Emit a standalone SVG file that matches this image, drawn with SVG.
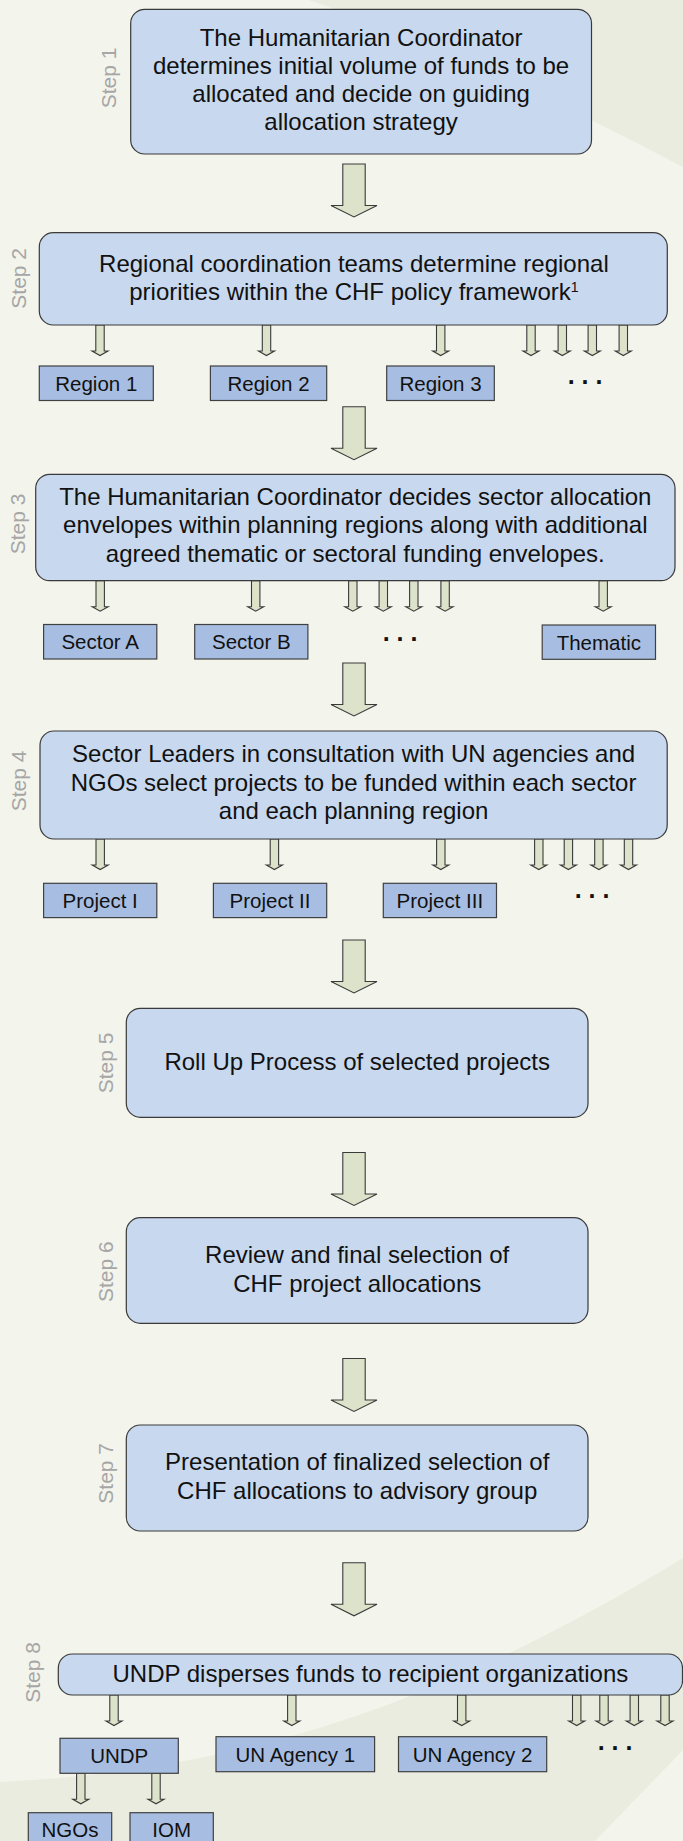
<svg xmlns="http://www.w3.org/2000/svg" width="683" height="1841" viewBox="0 0 683 1841">
<style>
.bg{fill:#f3f4ec}
.bg2{fill:#eaecdf}
.main{fill:#c8d8ee;stroke:#3a3a3a;stroke-width:1.2}
.sub{fill:#a7bee2;stroke:#404040;stroke-width:1.2}
.t{font-family:"Liberation Sans",Arial,sans-serif;font-size:24px;fill:#111;text-anchor:middle}
.s{font-family:"Liberation Sans",Arial,sans-serif;font-size:20.5px;fill:#111;text-anchor:middle}
.d{font-family:"Liberation Sans",Arial,sans-serif;font-size:25px;font-weight:bold;fill:#111;text-anchor:middle}
.step{font-family:"Liberation Sans",Arial,sans-serif;font-size:21px;fill:#a6a6a6;text-anchor:middle}
.arr{fill:#dde3ca;stroke:#3a3a3a;stroke-width:1.1}
</style>
<defs>
<path id="ba" d="M-11.2,0 H11.2 V41.5 H23 L0,53 L-23,41.5 H-11.2 Z"/>
<path id="sa" d="M-4.2,0 H4.2 V26 H8 L0,30.5 L-8,26 H-4.2 Z"/>
</defs>
<g id="background">
<rect class="bg" x="0" y="0" width="683" height="1841"/>
<path class="bg2" d="M309,0 Q480,60 683,167 L683,0 Z"/>
<path class="bg2" d="M0,1782 C250,1770 450,1700 683,1558 L683,1750 L595,1841 L0,1841 Z"/>
</g>
<g id="connectors">
<use href="#ba" class="arr" transform="translate(354,164)"/>
<use href="#ba" class="arr" transform="translate(354,406.7)"/>
<use href="#ba" class="arr" transform="translate(354,663)"/>
<use href="#ba" class="arr" transform="translate(354,940)"/>
<use href="#ba" class="arr" transform="translate(354,1152.5)"/>
<use href="#ba" class="arr" transform="translate(354,1358.5)"/>
<use href="#ba" class="arr" transform="translate(354,1562.8)"/>
<use href="#sa" class="arr" transform="translate(100,325)"/>
<use href="#sa" class="arr" transform="translate(266.5,325)"/>
<use href="#sa" class="arr" transform="translate(440.7,325)"/>
<use href="#sa" class="arr" transform="translate(531,325)"/>
<use href="#sa" class="arr" transform="translate(562.3,325)"/>
<use href="#sa" class="arr" transform="translate(592.3,325)"/>
<use href="#sa" class="arr" transform="translate(623.3,325)"/>
<use href="#sa" class="arr" transform="translate(100.2,580.7)"/>
<use href="#sa" class="arr" transform="translate(255.7,580.7)"/>
<use href="#sa" class="arr" transform="translate(352.8,580.7)"/>
<use href="#sa" class="arr" transform="translate(383.3,580.7)"/>
<use href="#sa" class="arr" transform="translate(413.8,580.7)"/>
<use href="#sa" class="arr" transform="translate(445.1,580.7)"/>
<use href="#sa" class="arr" transform="translate(603.2,580.7)"/>
<use href="#sa" class="arr" transform="translate(100.2,839)"/>
<use href="#sa" class="arr" transform="translate(274.4,839)"/>
<use href="#sa" class="arr" transform="translate(440.8,839)"/>
<use href="#sa" class="arr" transform="translate(538.8,839)"/>
<use href="#sa" class="arr" transform="translate(568.4,839)"/>
<use href="#sa" class="arr" transform="translate(598.9,839)"/>
<use href="#sa" class="arr" transform="translate(628.5,839)"/>
<use href="#sa" class="arr" transform="translate(114,1695)"/>
<use href="#sa" class="arr" transform="translate(291.8,1695)"/>
<use href="#sa" class="arr" transform="translate(461.7,1695)"/>
<use href="#sa" class="arr" transform="translate(576.7,1695)"/>
<use href="#sa" class="arr" transform="translate(604,1695)"/>
<use href="#sa" class="arr" transform="translate(634.3,1695)"/>
<use href="#sa" class="arr" transform="translate(665,1695)"/>
<use href="#sa" class="arr" transform="translate(80.8,1773.3)"/>
<use href="#sa" class="arr" transform="translate(156,1773.3)"/>
</g>
<g id="step1">
<rect class="main" x="130.7" y="9.3" width="460.8" height="144.7" rx="14"/>
<text class="t" x="361.1" y="45.7">The Humanitarian Coordinator</text>
<text class="t" x="361.1" y="74">determines initial volume of funds to be</text>
<text class="t" x="361.1" y="102">allocated and decide on guiding</text>
<text class="t" x="361.1" y="130">allocation strategy</text>
<text class="step" transform="translate(115.7,78) rotate(-90)">Step 1</text>
</g>
<g id="step2">
<rect class="main" x="39.3" y="232.7" width="628" height="92.3" rx="14"/>
<text class="t" x="353.9" y="271.7">Regional coordination teams determine regional</text>
<text class="t" x="353.9" y="300">priorities within the CHF policy framework<tspan font-size="14" dy="-8">1</tspan></text>
<text class="step" transform="translate(26,278.3) rotate(-90)">Step 2</text>
</g>
<g id="region1"><rect class="sub" x="39.3" y="366" width="114" height="34.5"/><text class="s" x="96.3" y="390.7">Region 1</text></g>
<g id="region2"><rect class="sub" x="210.4" y="366" width="116.3" height="34.5"/><text class="s" x="268.5" y="390.7">Region 2</text></g>
<g id="region3"><rect class="sub" x="386.7" y="366" width="107.6" height="34.5"/><text class="s" x="440.5" y="390.7">Region 3</text></g>
<g id="region-more"><text class="d" x="585" y="384">. . .</text></g>
<g id="step3">
<rect class="main" x="35.7" y="474.3" width="639.3" height="106.4" rx="14"/>
<text class="t" x="355.3" y="505">The Humanitarian Coordinator decides sector allocation</text>
<text class="t" x="355.3" y="533.3">envelopes within planning regions along with additional</text>
<text class="t" x="355.3" y="561.7">agreed thematic or sectoral funding envelopes.</text>
<text class="step" transform="translate(25,524) rotate(-90)">Step 3</text>
</g>
<g id="sectorA"><rect class="sub" x="43.6" y="624.5" width="113.2" height="34.5"/><text class="s" x="100.2" y="649">Sector A</text></g>
<g id="sectorB"><rect class="sub" x="194.7" y="624.5" width="113.2" height="34.5"/><text class="s" x="251.3" y="649">Sector B</text></g>
<g id="sector-more"><text class="d" x="400" y="641.2">. . .</text></g>
<g id="thematic"><rect class="sub" x="542.2" y="625" width="113.3" height="34.3"/><text class="s" x="598.8" y="649.5">Thematic</text></g>
<g id="step4">
<rect class="main" x="40" y="731" width="627.2" height="108" rx="14"/>
<text class="t" x="353.6" y="761.7">Sector Leaders in consultation with UN agencies and</text>
<text class="t" x="353.6" y="790.7">NGOs select projects to be funded within each sector</text>
<text class="t" x="353.6" y="819.3">and each planning region</text>
<text class="step" transform="translate(26,781) rotate(-90)">Step 4</text>
</g>
<g id="project1"><rect class="sub" x="43.6" y="883.3" width="113.2" height="34.3"/><text class="s" x="100.2" y="907.8">Project I</text></g>
<g id="project2"><rect class="sub" x="213.4" y="883.3" width="113.3" height="34.3"/><text class="s" x="270" y="907.8">Project II</text></g>
<g id="project3"><rect class="sub" x="383.3" y="883.3" width="113.2" height="34.3"/><text class="s" x="439.9" y="907.8">Project III</text></g>
<g id="project-more"><text class="d" x="592" y="898.2">. . .</text></g>
<g id="step5">
<rect class="main" x="126.3" y="1008.3" width="461.7" height="109" rx="14"/>
<text class="t" x="357.2" y="1070">Roll Up Process of selected projects</text>
<text class="step" transform="translate(112.6,1063) rotate(-90)">Step 5</text>
</g>
<g id="step6">
<rect class="main" x="126.3" y="1217.7" width="461.7" height="105.6" rx="14"/>
<text class="t" x="357.2" y="1262.7">Review and final selection of</text>
<text class="t" x="357.2" y="1291.7">CHF project allocations</text>
<text class="step" transform="translate(112.6,1271.7) rotate(-90)">Step 6</text>
</g>
<g id="step7">
<rect class="main" x="126.3" y="1425" width="461.7" height="106" rx="14"/>
<text class="t" x="357.2" y="1470">Presentation of finalized selection of</text>
<text class="t" x="357.2" y="1499.3">CHF allocations to advisory group</text>
<text class="step" transform="translate(112.6,1473.3) rotate(-90)">Step 7</text>
</g>
<g id="step8">
<rect class="main" x="58.3" y="1654" width="624.2" height="41" rx="14"/>
<text class="t" x="370.4" y="1681.7">UNDP disperses funds to recipient organizations</text>
<text class="step" transform="translate(40.3,1672.5) rotate(-90)">Step 8</text>
</g>
<g id="undp"><rect class="sub" x="60" y="1738.3" width="118.3" height="35"/><text class="s" x="119.2" y="1763.2">UNDP</text></g>
<g id="unagency1"><rect class="sub" x="216" y="1736.7" width="158.6" height="35"/><text class="s" x="295.3" y="1761.6">UN Agency 1</text></g>
<g id="unagency2"><rect class="sub" x="398.5" y="1736.7" width="148.2" height="35"/><text class="s" x="472.6" y="1761.6">UN Agency 2</text></g>
<g id="agency-more"><text class="d" x="615" y="1749.5">. . .</text></g>
<g id="ngos"><rect class="sub" x="28.3" y="1812.7" width="83.4" height="35"/><text class="s" x="70" y="1837.4">NGOs</text></g>
<g id="iom"><rect class="sub" x="130" y="1812.7" width="83.3" height="35"/><text class="s" x="171.7" y="1837.4">IOM</text></g>
</svg>
